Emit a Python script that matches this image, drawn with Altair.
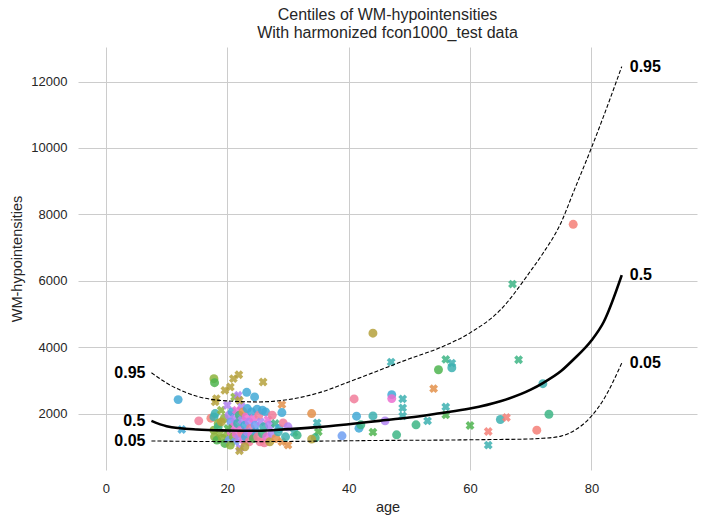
import altair as alt
import pandas as pd

# ---------------- data ----------------
site_colors = ["#f47f77", "#f17d9a", "#e3914a", "#b5a13c", "#8cb33c", "#4db44f",
               "#3db585", "#3cb0b0", "#42a9d6", "#6f9ff2", "#b284f2", "#ec6fd0"]

# scatter points: age, value, site index, sex (F = circle, M = cross)
pt_age = [11.9, 12.5, 15.3, 17.3, 17.8, 33.9, 34.8, 35.0, 34.5, 33.9, 38.9, 40.9, 41.3, 41.7, 42.0,
          44.0, 44.0, 44.0, 46.0, 47.0, 47.1, 47.1, 47.9, 48.9, 48.9, 48.9, 51.1, 53.0, 54.0, 54.8,
          56.0, 57.0, 57.0, 56.0, 56.0, 60.0, 63.0, 63.0, 65.0, 66.0, 67.0, 68.0, 71.0, 72.0, 73.0, 77.0,
          17.8, 17.9, 18.2, 18.0, 19.6, 20.5, 21.0, 21.9, 21.2, 25.9, 29.0, 23.2, 21.8, 22.3, 24.5, 22.0,
          18.0, 18.5, 19.0, 19.5, 20.0, 20.3, 20.6, 20.8, 21.0, 21.2, 21.5, 21.7, 22.0, 22.2, 22.4, 22.6,
          22.9, 23.1, 23.3, 23.6, 23.8, 24.0, 24.3, 24.6, 24.9, 25.2, 25.5, 25.8, 26.0, 26.3, 26.7, 27.0,
          27.4, 27.9, 28.5, 29.0, 29.2, 30.0, 31.0, 31.5,
          17.8, 17.9, 18.3, 18.8, 19.2, 19.6, 20.0, 20.3, 20.6, 21.0, 21.3, 21.5, 21.8, 22.1, 22.0, 22.4,
          22.7, 23.0, 23.3, 23.6, 24.0, 24.3, 24.7, 25.0, 25.4, 25.8, 26.1, 26.5, 27.0, 27.4, 28.0, 28.4,
          29.0, 29.6, 30.0, 18.5, 19.0, 20.1, 22.9, 20.5]
pt_value = [2420, 1520, 1780, 1860, 1900, 2000, 1720, 1450, 1270, 1230, 1330, 2440, 1920, 1560, 1660,
            1930, 1440, 4420, 1780, 3550, 2570, 2450, 1360, 2440, 2170, 1930, 1660, 1780, 2750, 3320,
            3630, 3520, 3380, 2200, 1960, 1640, 1460, 1050, 1820, 1880, 5900, 3620, 1500, 2900, 1980, 7700,
            3050, 2930, 2450, 2350, 2700, 2800, 3050, 3170, 2500, 2950, 2270, 2640, 2550, 2220, 2500, 2400,
            2000, 1700, 2100, 1850, 2250, 1950, 1750, 2050, 1600, 1850, 2100, 1700, 1950, 1500, 1800, 2050,
            1650, 1900, 2150, 1750, 1550, 2050, 1850, 1650, 2130, 1950, 1750, 2100, 1600, 2050, 1820, 1650,
            1950, 1700, 1550, 2030, 1720, 1600, 1430, 1350,
            1500, 1300, 1200, 1400, 1250, 1100, 1350, 1200, 1450, 1300, 1150, 1380, 1250, 960, 880, 1400,
            1200, 1300, 1450, 1150, 1350, 1250, 1450, 1300, 1150, 1400, 1120, 1300, 1150, 1400, 1250, 1450,
            1150, 1300, 1050, 1600, 1750, 1550, 1000, 1050]
pt_site = [8, 8, 1, 0, 7, 2, 7, 5, 6, 3, 9, 1, 8, 8, 6,
           7, 5, 3, 10, 7, 8, 11, 6, 7, 7, 7, 6, 7, 2, 5,
           6, 7, 7, 7, 5, 5, 0, 7, 7, 0, 6, 6, 0, 7, 6, 0,
           4, 5, 3, 3, 3, 3, 3, 3, 4, 3, 2, 8, 10, 10, 8, 3,
           7, 4, 4, 4, 10, 10, 9, 8, 11, 10, 11, 7, 6, 11, 10, 2,
           8, 11, 8, 10, 1, 8, 11, 9, 8, 1, 10, 8, 7, 8, 11, 10,
           1, 6, 8, 8, 1, 10, 7, 6,
           4, 4, 5, 4, 4, 5, 4, 9, 11, 4, 9, 11, 10, 10, 3, 1,
           11, 8, 10, 1, 11, 5, 8, 1, 1, 6, 1, 11, 3, 10, 2, 7,
           2, 7, 2, 6, 3, 5, 3, 4]
pt_sex = ["F", "M", "F", "F", "F", "F", "M", "M", "F", "F", "F", "F", "F", "F", "F",
          "F", "M", "F", "F", "M", "F", "F", "F", "M", "M", "M", "F", "M", "M", "F",
          "M", "M", "F", "M", "M", "M", "M", "M", "F", "M", "M", "M", "F", "F", "F", "F",
          "F", "F", "M", "M", "M", "M", "M", "M", "M", "M", "M", "F", "M", "M", "F", "M",
          "F", "F", "M", "F", "M", "F", "F", "F", "F", "M", "M", "F", "F", "F", "M", "F",
          "F", "F", "F", "F", "F", "F", "M", "F", "F", "F", "M", "F", "F", "F", "M", "F",
          "F", "M", "F", "F", "F", "F", "M", "F",
          "F", "F", "F", "M", "F", "F", "F", "F", "F", "F", "M", "F", "M", "M", "M", "F",
          "F", "F", "M", "F", "F", "F", "M", "F", "F", "F", "F", "F", "F", "F", "F", "F",
          "M", "F", "M", "F", "F", "M", "F", "F"]

# centile curves
cent_ages = [7.5, 10, 15, 20, 25, 30, 35, 40, 45, 50, 55, 60, 65, 70, 72, 75, 77, 80, 82, 85]
q05 = [1175, 1170, 1160, 1155, 1155, 1160, 1170, 1180, 1190, 1195, 1200, 1210, 1220, 1235, 1255, 1320, 1470, 1920, 2420, 3520]
q50 = [1780, 1620, 1520, 1490, 1480, 1530, 1590, 1680, 1780, 1880, 2010, 2150, 2370, 2720, 2920, 3280, 3620, 4200, 4750, 6170]
q95 = [3230, 2920, 2520, 2380, 2350, 2420, 2620, 2950, 3300, 3650, 3980, 4430, 5120, 6300, 6820, 7750, 8650, 10000, 10950, 12450]
cent_names = ["0.05", "0.5", "0.95"]

# ---------------- frames ----------------
pts = pd.DataFrame({"age": pt_age, "value": pt_value,
                    "site": [str(s) for s in pt_site], "sex": pt_sex})

curves = {"0.05": q05, "0.5": q50, "0.95": q95}
lines = pd.DataFrame([{"age": a, "value": v, "centile": c}
                      for c in cent_names for a, v in zip(cent_ages, curves[c])])
left_lab = pd.DataFrame({"age": [cent_ages[0]] * 3,
                         "value": [curves[c][0] for c in cent_names],
                         "centile": cent_names})
right_lab = pd.DataFrame({"age": [cent_ages[-1]] * 3,
                          "value": [curves[c][-1] for c in cent_names],
                          "centile": cent_names})

FONT = "Liberation Sans"
xs = alt.Scale(domain=[-4.6, 97.4], nice=False, zero=False)
ys = alt.Scale(domain=[300, 13040], nice=False, zero=False)

xax = alt.Axis(values=[0, 20, 40, 60, 80], title="age", labelPadding=12, titlePadding=5)
yax = alt.Axis(values=[2000, 4000, 6000, 8000, 10000, 12000], format="d", title="WM-hypointensities",
               labelPadding=11, titlePadding=6)

points = alt.Chart(pts).mark_point(filled=True, opacity=0.85, size=80, angle=45, strokeWidth=0).encode(
    x=alt.X("age:Q", scale=xs, axis=xax),
    y=alt.Y("value:Q", scale=ys, axis=yax),
    color=alt.Color("site:N", scale=alt.Scale(domain=[str(i) for i in range(12)], range=site_colors), legend=None),
    shape=alt.Shape("sex:N", scale=alt.Scale(domain=["F", "M"], range=["circle", "cross"]), legend=None),
)

dashed = alt.Chart(lines).transform_filter(alt.datum.centile != "0.5").mark_line(
    color="black", strokeWidth=1.1, strokeDash=[4, 2], interpolate="monotone").encode(
    x=alt.X("age:Q", scale=xs), y=alt.Y("value:Q", scale=ys), detail="centile:N")

solid = alt.Chart(lines).transform_filter(alt.datum.centile == "0.5").mark_line(
    color="black", strokeWidth=2.6, interpolate="monotone").encode(
    x=alt.X("age:Q", scale=xs), y=alt.Y("value:Q", scale=ys))

ltext = alt.Chart(left_lab).mark_text(align="right", baseline="middle", dx=-6, fontSize=16,
                                      fontWeight="bold", font=FONT, color="black").encode(
    x=alt.X("age:Q", scale=xs), y=alt.Y("value:Q", scale=ys), text="centile:N")
rtext = alt.Chart(right_lab).mark_text(align="left", baseline="middle", dx=8, fontSize=16,
                                       fontWeight="bold", font=FONT, color="black").encode(
    x=alt.X("age:Q", scale=xs), y=alt.Y("value:Q", scale=ys), text="centile:N")

chart = alt.layer(points, dashed, solid, ltext, rtext).properties(
    width=619, height=423,
    autosize=alt.AutoSizeParams(type="none"),
    padding={"left": 78, "top": 47, "right": 11, "bottom": 54},
    title=alt.TitleParams(text=["Centiles of WM-hypointensities", "With harmonized fcon1000_test data"],
                          fontSize=16, fontWeight="normal", font=FONT, color="#262626",
                          anchor="middle", offset=6, lineHeight=18),
).configure_view(stroke=None).configure_axis(
    grid=True, gridColor="#cccccc", gridWidth=1, domain=False, ticks=False, tickSize=0,
    labelFont=FONT, labelFontSize=13, labelColor="#262626",
    titleFont=FONT, titleFontSize=14.5, titleFontWeight="normal", titleColor="#262626",
)

chart.save("out.html", embed_options={"renderer": "svg", "actions": False})
